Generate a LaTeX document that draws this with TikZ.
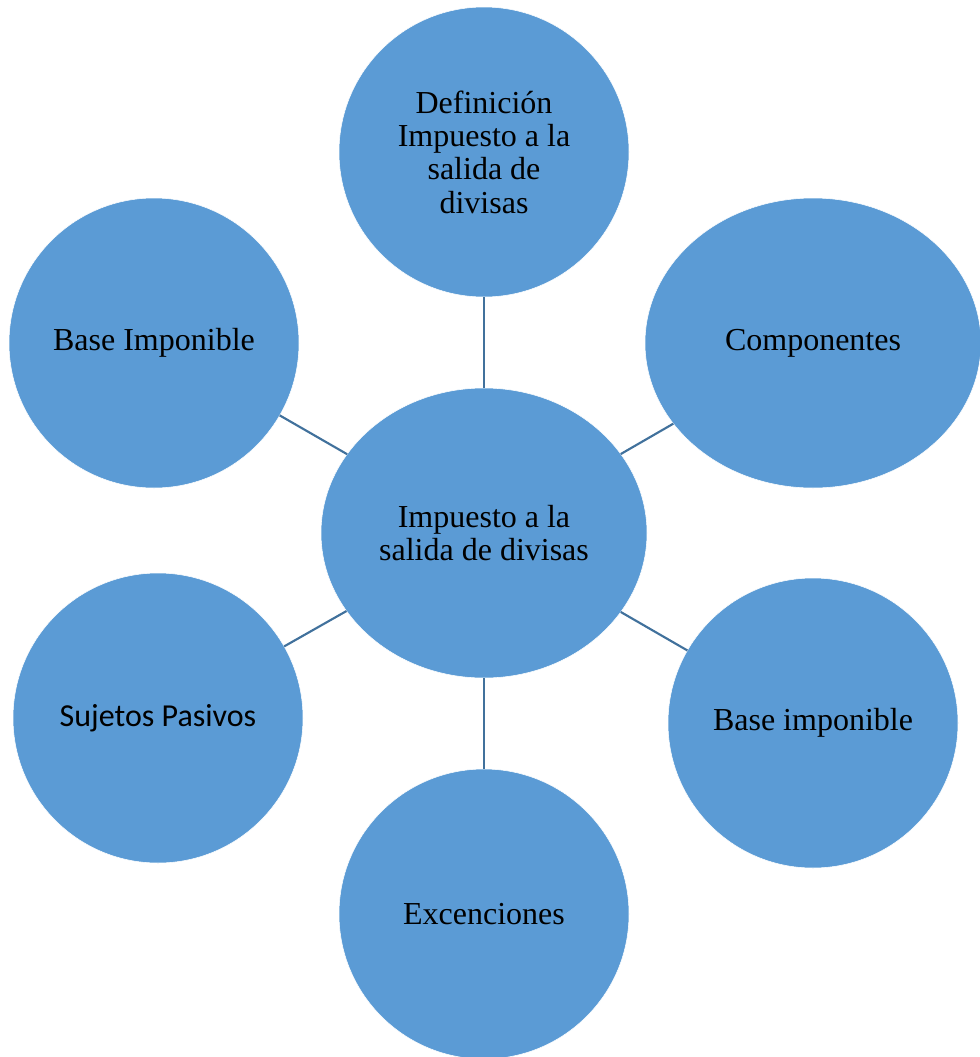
\documentclass[tikz,border=0pt]{standalone}
\usepackage{fontspec}
\setmainfont{Liberation Serif}
\newfontfamily\calibrifont{Carlito}
\usetikzlibrary{shapes.geometric}
\definecolor{bubble}{HTML}{5B9BD5}
\definecolor{linkc}{HTML}{41719C}
\tikzset{
  bubble/.style={ellipse, fill=bubble, draw=white, line width=0.4pt, inner sep=0pt, outer sep=0pt,
    align=center, text=black, font=\fontsize{24}{25}\selectfont,
    minimum width=217.5pt, minimum height=217.5pt},
  link/.style={draw=linkc, line width=1.6pt}
}
\begin{document}
\begin{tikzpicture}[x=0.75pt,y=-0.75pt]
\useasboundingbox (0,0) rectangle (979,1057);
\node[bubble, minimum width=244.5pt] (c) at (484,533) {Impuesto a la\\salida de divisas};
\node[bubble] (t) at (484,152) {Definición\\Impuesto a la\\salida de\\divisas};
\node[bubble] (tl) at (154,343) {Base Imponible};
\node[bubble, minimum width=252pt] (tr) at (813,343) {Componentes};
\node[bubble] (br) at (813,723) {Base imponible};
\node[bubble] (b) at (484,914) {Excenciones};
\node[bubble, font=\calibrifont\fontsize{24}{25}\selectfont] (bl) at (158,718) {Sujetos Pasivos};
\draw[link] (c) -- (t);
\draw[link] (c) -- (tl);
\draw[link] (c) -- (tr);
\draw[link] (c) -- (br);
\draw[link] (c) -- (b);
\draw[link] (c) -- (bl);
\end{tikzpicture}
\end{document}
